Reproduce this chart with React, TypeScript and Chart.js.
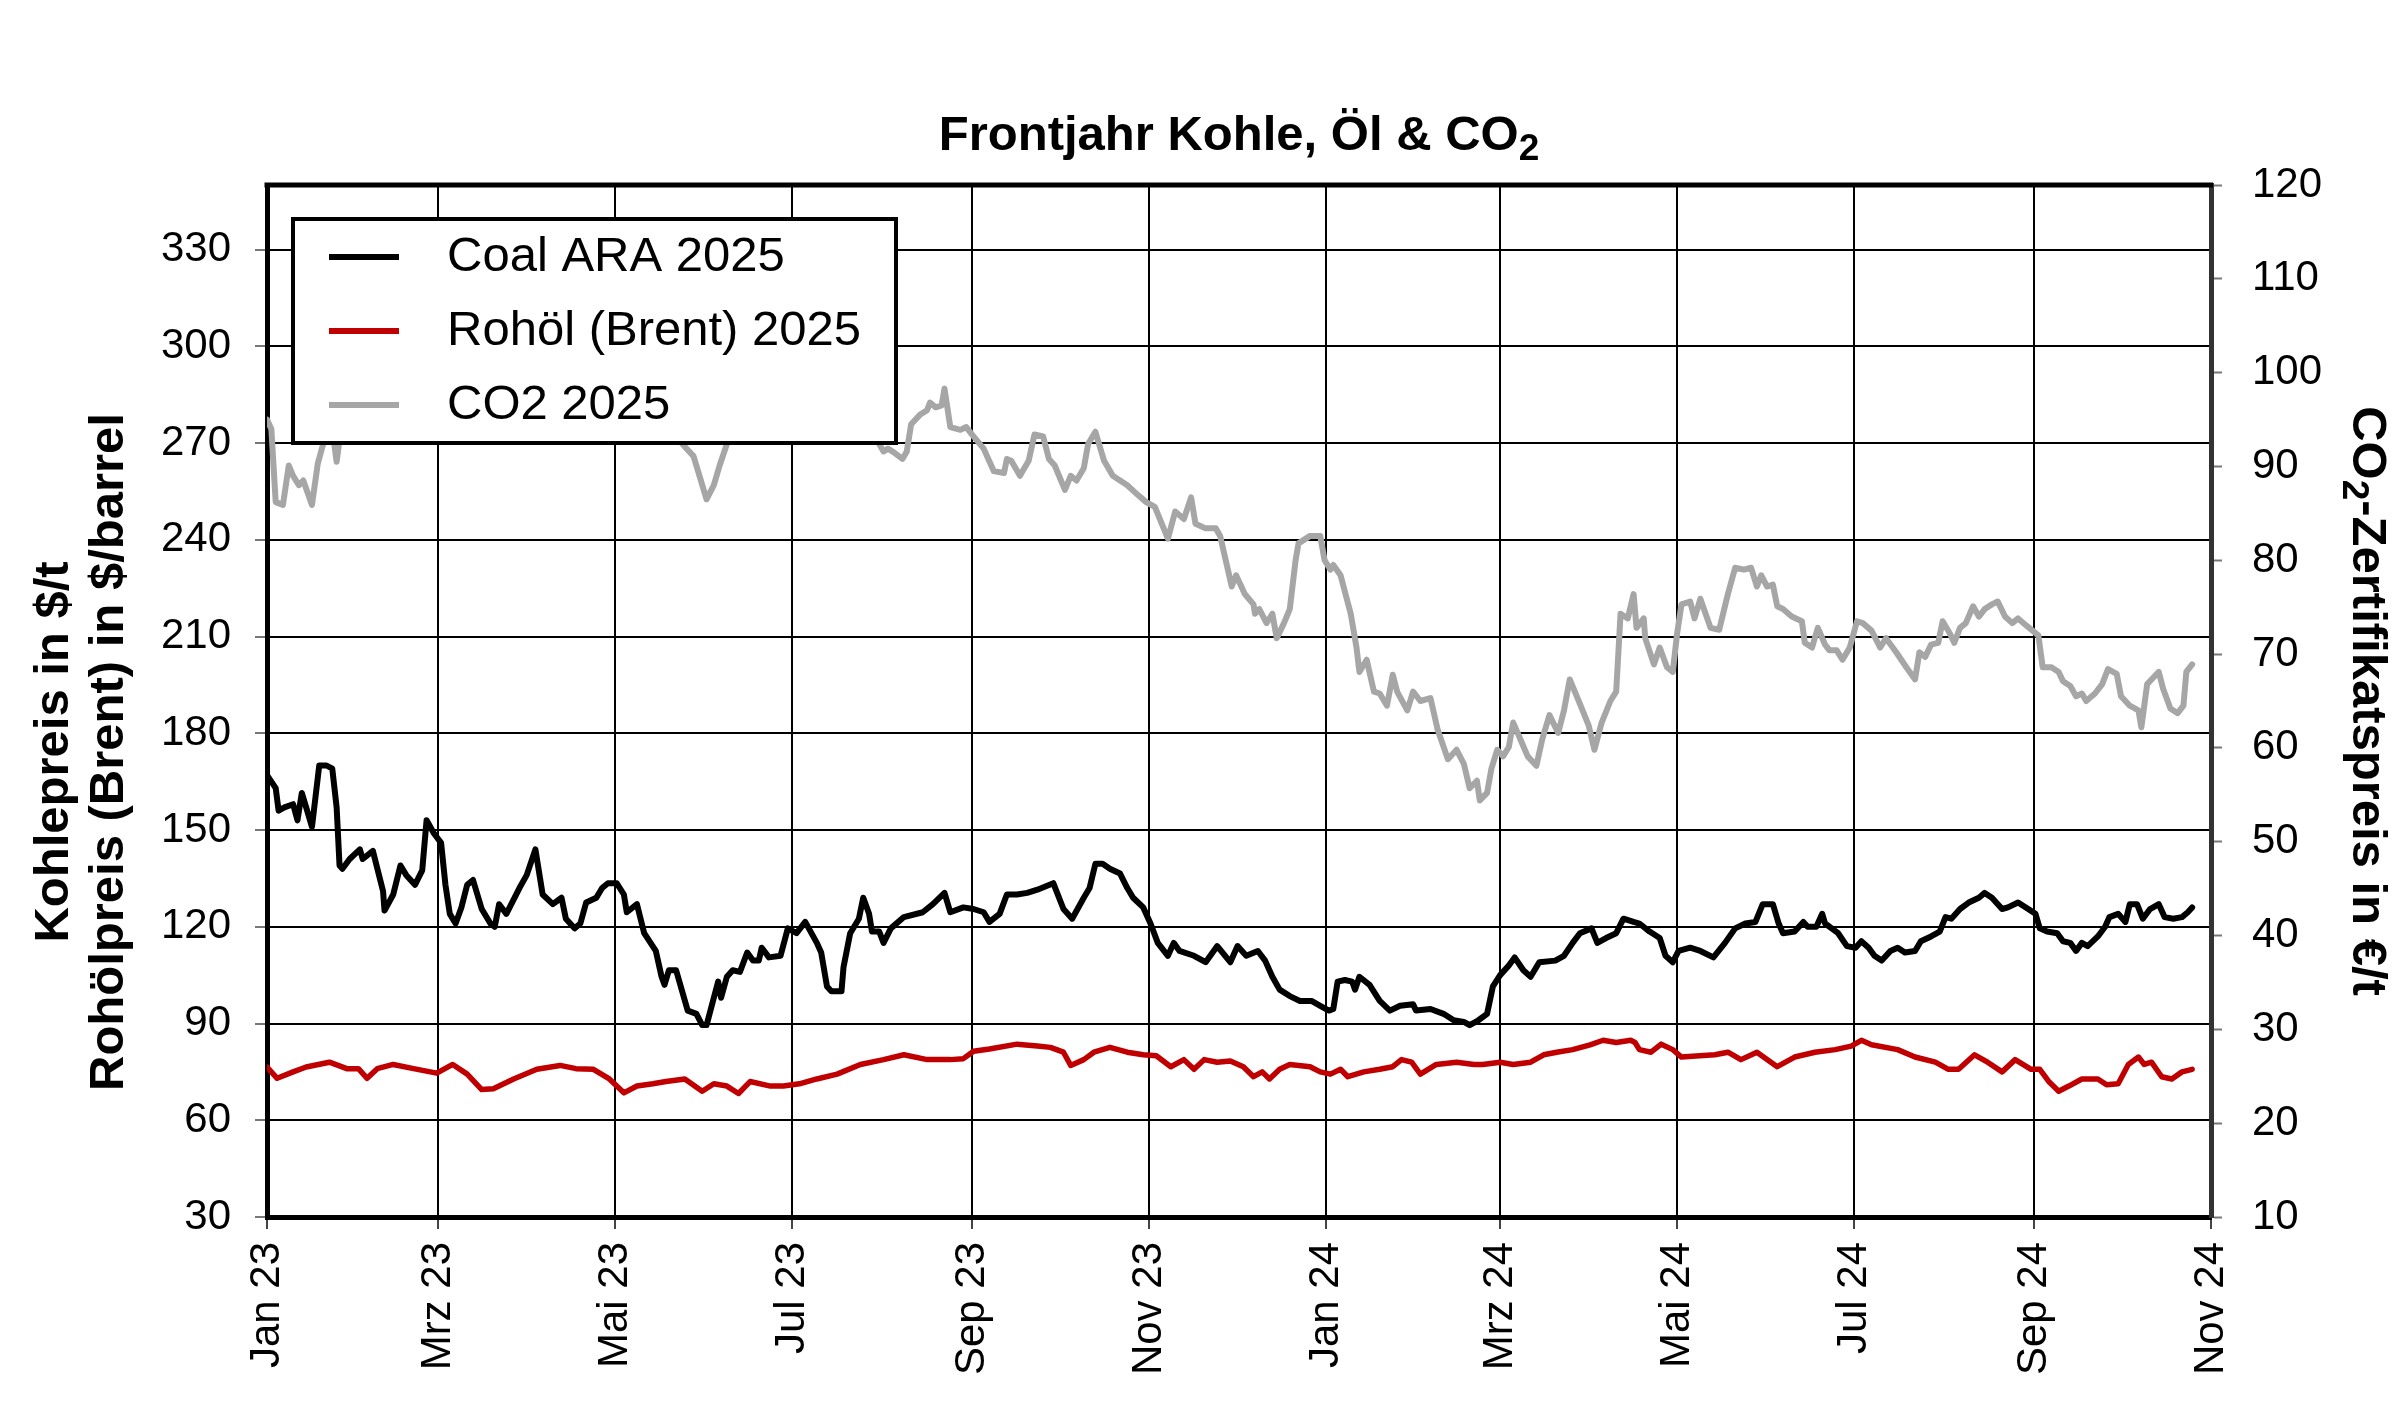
import { useEffect, useRef } from 'react'
import { Chart, registerables, type Plugin } from 'chart.js'

Chart.register(...registerables)

const FONT = "'Liberation Sans', Arial, Helvetica, sans-serif"

// x-Werte = Tage seit 1.1.2023
const TICK_DAYS = [0, 59, 120, 181, 243, 304, 365, 425, 486, 547, 609, 670]
const TICK_LABELS = ['Jan 23', 'Mrz 23', 'Mai 23', 'Jul 23', 'Sep 23', 'Nov 23', 'Jan 24', 'Mrz 24', 'Mai 24', 'Jul 24', 'Sep 24', 'Nov 24']
const LEFT_TICKS = [30, 60, 90, 120, 150, 180, 210, 240, 270, 300, 330]

const SERIES_LABELS = ['Coal ARA 2025', 'Rohöl (Brent) 2025', 'CO2 2025']
const COLORS = ['#000000', '#c00000', '#a6a6a6']

// Kohle, $/t
const COAL: [number, number][] = [
  [0, 167], [3, 163], [4, 156], [6, 157], [9, 158], [10.5, 153], [12, 161.5], [13.5, 157], [15.5, 151],
  [18, 170], [20.5, 170], [22.5, 169], [24, 157], [25, 139], [26, 138], [28.5, 141], [32, 144], [33, 141],
  [36.5, 143.5], [40, 131], [40.5, 125], [43.5, 130], [46, 139], [48, 136], [51, 133], [53.5, 137.5],
  [55, 153], [57.5, 149], [60, 146], [61.5, 133], [63, 124], [65, 121], [67, 126], [69, 133], [71, 134.5],
  [74, 125.5], [77, 121], [78.5, 120], [80, 127], [82.5, 124], [87, 132], [89.5, 136], [92.5, 144],
  [95, 130], [98.5, 127], [101.5, 129], [103, 122.5], [106, 119.5], [108, 121], [110, 127.5], [113.5, 129],
  [115.5, 132], [117.5, 133.5], [120.5, 133.5], [123, 130], [124, 124.5], [127.5, 127], [130, 118],
  [134, 112.5], [136, 104.5], [137, 102], [138.5, 106.5], [141, 106.5], [145, 94], [148, 93], [150, 89.5],
  [151.5, 89.5], [154, 98], [155.5, 103], [156.5, 98], [158.5, 104.5], [160.5, 106.5], [163, 106],
  [165.5, 112], [167.5, 109.5], [169.5, 109.5], [170.5, 113.5], [173, 110.5], [177, 111], [179.5, 119.5],
  [182.5, 118], [185.5, 121.5], [189.5, 115], [191, 112], [193, 101.5], [194.5, 100], [198, 100],
  [198.7, 107.5], [201, 118], [204, 122.5], [205.5, 129], [207.5, 124], [208.5, 118.5], [211, 118.5],
  [212.5, 115], [215, 119.5], [219.5, 123], [226, 124.5], [229.5, 127], [233.5, 130.5], [235.5, 124.5],
  [240, 126], [243.5, 125.5], [247, 124.5], [249, 121.5], [252.5, 124], [255, 130], [258.5, 130],
  [262, 130.5], [265.5, 131.5], [271, 133.5], [274.5, 125.5], [277.5, 122.5], [281.5, 129], [283.5, 132],
  [285.5, 139.5], [288, 139.5], [290.5, 138], [294, 136.5], [296.5, 132], [298.5, 129], [302, 126],
  [304.5, 121], [307, 115], [310.5, 111], [312.5, 115], [314.5, 112.5], [319.5, 111], [323.5, 109],
  [327.5, 114], [332, 109], [334.5, 114], [337.5, 111], [341.5, 112.5], [344, 109.5], [346.5, 104.5],
  [349, 100.5], [352.5, 98.5], [356, 97], [360, 97], [363, 95.5], [366, 94], [367.5, 94.5], [369, 103],
  [371.5, 103.5], [374, 103], [375, 100.5], [376.5, 104.5], [380, 102], [383.5, 97], [387, 94],
  [390.5, 95.5], [395, 96], [396, 94], [401, 94.5], [405.5, 93], [409, 91], [412.5, 90.5], [414.5, 89.5],
  [417.5, 91], [420.5, 93], [422.5, 101.5], [425, 105], [428, 108], [430, 110.5], [433, 106.5],
  [435.5, 104.5], [438.5, 109], [444, 109.5], [447, 111], [450, 115], [452.5, 118], [456.5, 119.5],
  [458.5, 115], [461.5, 116.5], [465, 118], [467.5, 122.5], [471, 121.5], [473, 121], [476.5, 118.5],
  [480, 116.5], [482, 111], [484.5, 109], [486.5, 112.5], [490.5, 113.5], [494, 112.5], [498.5, 110.5],
  [502.5, 115], [506, 119.5], [509.5, 121], [513, 121.5], [515.5, 127], [519, 127], [521, 121],
  [522.5, 118], [526.5, 118.5], [529.5, 121.5], [531, 120], [534, 120], [536, 124], [537, 121],
  [541.5, 118], [544.5, 114], [547.5, 113.5], [549.5, 115.5], [552, 113.5], [554, 111], [556.5, 109.5],
  [559.5, 112.5], [562, 113.5], [564.5, 112], [568, 112.5], [570, 115.5], [573.5, 117], [576.5, 118.5],
  [578.5, 123], [580.5, 122.5], [583.5, 125.5], [586.5, 127.5], [590, 129], [592, 130.5], [594.5, 129],
  [598, 125.5], [600, 126], [603.5, 127.5], [607, 125.5], [609.5, 124], [611, 119.5], [613.5, 118.5],
  [617, 118], [619, 115.5], [621.5, 115], [623.5, 112.5], [625.5, 115], [627.5, 114], [631, 117],
  [633.5, 120], [635, 123], [638, 124], [640.5, 121.5], [642, 127], [644.5, 127], [646.5, 122.5],
  [649, 125.5], [652, 127], [654, 123], [657, 122.5], [660, 123], [662, 124.5], [663.5, 126],
]

// Brent, $/barrel
const BRENT: [number, number][] = [
  [0, 76.5], [3.5, 73], [9, 75], [13.5, 76.5], [21.5, 78], [27.5, 76], [31.5, 76], [34.5, 73], [38, 76],
  [43.5, 77.3], [50.5, 76], [58.5, 74.6], [64, 77.3], [69, 74.3], [74, 69.5], [78, 69.8], [85, 72.8],
  [93, 75.8], [101, 77], [106.5, 76], [112.5, 75.8], [118, 72.8], [123, 68.5], [127.5, 70.6], [133, 71.3],
  [137.5, 72], [144, 72.8], [150, 69], [154, 71.3], [158.5, 70.6], [162.5, 68.3], [166.5, 72],
  [173.5, 70.6], [178, 70.6], [183.5, 71.3], [189.5, 72.8], [196.5, 74.3], [204.5, 77.3], [212.5, 78.8],
  [219.5, 80.3], [227.5, 78.8], [235.5, 78.8], [240, 79.1], [243.5, 81.4], [249, 82.1], [258.5, 83.6],
  [265.5, 83], [270, 82.6], [274.5, 81.1], [277, 77], [281.5, 78.8], [285, 81.1], [290.5, 82.6],
  [296.5, 81.1], [302, 80.3], [306.5, 80], [311.5, 76.6], [316, 78.8], [319.5, 75.8], [323, 78.8],
  [327.5, 78], [332, 78.4], [336.5, 76.6], [340, 73.5], [343, 75], [345.5, 72.8], [349, 75.8],
  [352.5, 77.3], [359.5, 76.6], [363, 75], [366.5, 74.3], [370, 75.8], [372.5, 73.5], [378, 75],
  [383.5, 75.8], [388, 76.6], [391, 78.8], [394.5, 78], [397.5, 74.3], [403, 77.3], [410, 78], [416, 77.3],
  [419, 77.3], [425, 78], [429.5, 77.3], [435.5, 78], [440, 80.3], [444.5, 81.1], [450, 81.9], [456, 83.4],
  [460.5, 84.8], [465, 84.1], [470, 84.8], [471.5, 84.1], [473, 81.9], [477, 81.1], [480.5, 83.6],
  [484.5, 81.9], [487.5, 79.6], [492.5, 79.9], [499, 80.3], [503.5, 81.1], [508, 78.8], [513.5, 81.1],
  [520.5, 76.6], [526.5, 79.6], [533.5, 81.1], [540.5, 81.9], [546, 83], [549.5, 84.8], [553, 83.4],
  [562, 81.9], [568, 79.6], [575, 78], [579.5, 75.8], [583, 75.8], [588.5, 80.3], [593, 78], [598, 75],
  [602.5, 78.8], [608, 75.8], [611, 75.8], [614, 72.1], [617.5, 69], [621, 70.6], [625.5, 72.8],
  [631, 72.8], [634, 71], [638, 71.3], [641.5, 77.3], [645, 79.6], [647, 77.3], [649.5, 78], [653, 73.5],
  [656.5, 72.8], [660, 75], [663.5, 75.8],
]

// CO2, €/t (hinter der Legende geschätzt)
const CO2: [number, number][] = [
  [0, 95], [1.5, 94], [3, 86.2], [5.5, 85.9], [7.5, 90.1], [9, 89], [11, 88], [12.5, 88.5], [15.5, 85.9],
  [17.5, 90.3], [19, 92], [21, 94], [22.5, 94], [24, 90.5], [25.5, 94], [30, 96], [36, 98], [42, 100],
  [48, 99], [55, 101], [62, 98], [70, 96], [78, 98], [86, 99], [94, 97], [102, 98], [110, 96], [118, 97],
  [126, 95], [134, 94], [140, 93.5], [144, 92.1], [147, 91.1], [151.5, 86.5], [154, 88], [156, 90.1],
  [158.5, 92.4], [163, 94], [170, 96], [178, 95], [186, 97], [194, 96], [202, 95], [208, 94],
  [212.5, 91.6], [214, 91.9], [216.5, 91.4], [219, 90.8], [220.5, 91.6], [222, 94.5], [225, 95.5],
  [227.5, 96], [228.5, 96.8], [230.5, 96.3], [232.5, 96.5], [233.5, 98.3], [235.5, 94.2], [239, 93.9],
  [241, 94.2], [243, 93.4], [247, 91.9], [250.5, 89.5], [254, 89.3], [255, 90.8], [256.5, 90.6],
  [259.5, 89], [262.5, 90.6], [264.5, 93.4], [267.5, 93.2], [269.5, 90.8], [271.5, 90.1], [275, 87.5],
  [277, 89], [279, 88.5], [281.5, 89.8], [283, 92.4], [285.5, 93.7], [288.5, 90.6], [291.5, 89], [296.5, 88],
  [300, 87], [303, 86.2], [306, 85.7], [310.5, 82.3], [313, 85.2], [316, 84.4], [318.5, 86.7], [320, 83.9],
  [323.5, 83.4], [327, 83.4], [328.5, 82.6], [332.5, 77.2], [334, 78.4], [337, 76.4], [340, 75.3],
  [340.5, 74.3], [342, 74.8], [344.5, 73.3], [346.5, 74.3], [348, 71.7], [350.5, 73.3], [352.5, 74.8],
  [354.5, 80], [355.5, 81.8], [359.5, 82.6], [363, 82.6], [364.5, 80], [366.5, 79], [367.5, 79.5],
  [370, 78.4], [373.5, 74.3], [375.5, 70.7], [376.5, 68.1], [379, 69.4], [381.5, 66], [383.5, 65.8],
  [386, 64.5], [388, 67.8], [389.5, 66], [393, 64], [395, 66], [397.5, 65], [401, 65.3], [403.5, 61.9],
  [407, 58.8], [410, 59.8], [412.5, 58.3], [414.5, 55.7], [417, 56.5], [418, 54.4], [420.5, 55.2],
  [422, 57.8], [424, 59.8], [426, 59.1], [428, 60.1], [429.5, 62.7], [432, 60.9], [434.5, 59.1],
  [437.5, 58.1], [439.5, 60.9], [442, 63.5], [445, 61.6], [447, 64], [449, 67.3], [452.5, 64.7],
  [455.5, 62.4], [457.5, 59.8], [460, 62.7], [463, 65], [465, 66], [466.5, 74.3], [469, 73.8], [471, 76.4],
  [472, 72.8], [474.5, 73.8], [475, 71.7], [478, 68.9], [480, 70.7], [482.5, 68.6], [484.5, 68.1],
  [486, 72.2], [487.5, 75.3], [490.5, 75.6], [492, 73.8], [494, 75.9], [497.5, 72.8], [500.5, 72.6],
  [503.5, 76.4], [506, 79.2], [509, 79], [511.5, 79.2], [513.5, 77.2], [515, 78.4], [517, 77.2], [519, 77.4],
  [520.5, 75.1], [522.5, 74.8], [525.5, 74], [529, 73.5], [530, 71.2], [532.5, 70.7], [534.5, 72.8],
  [537, 71], [538.5, 70.4], [541, 70.4], [543, 69.4], [545.5, 70.7], [548, 73.5], [550, 73.3], [553, 72.5],
  [556, 70.7], [558, 71.7], [561.5, 70.2], [565, 68.6], [568, 67.3], [569.5, 70.2], [571.5, 69.7],
  [573.5, 71], [576, 71.2], [577.5, 73.5], [580, 72.2], [581.5, 71.2], [583.5, 72.8], [585.5, 73.3],
  [588, 75.1], [590, 74], [592, 74.8], [594.5, 75.3], [596.5, 75.6], [599, 74], [601.5, 73.3], [603.5, 73.8],
  [606.5, 73], [608.5, 72.5], [610.5, 72], [612, 68.6], [615, 68.6], [617.5, 68.1], [619, 67.1],
  [621.5, 66.6], [623.5, 65.5], [625.5, 65.8], [627, 65], [630, 65.8], [632.5, 66.8], [634.5, 68.4],
  [637.5, 67.9], [639, 65.5], [642, 64.5], [645, 64], [646, 62.2], [648, 66.8], [649.5, 67.3], [652, 68.1],
  [653.5, 66.3], [656, 64.2], [658.5, 63.7], [660.5, 64.5], [661.5, 68.1], [663.5, 68.9],
]

type Part = [string, boolean]

// Text mit tiefgestellten Teilen, zentriert um (x, y) = Grundlinie
function drawRich(ctx: CanvasRenderingContext2D, parts: Part[], size: number, x: number, y: number, rot: number) {
  ctx.save()
  ctx.translate(x, y)
  ctx.rotate(rot)
  ctx.fillStyle = '#000'
  ctx.textAlign = 'left'
  ctx.textBaseline = 'alphabetic'
  const fontOf = (sub: boolean) => `bold ${sub ? Math.round(size * 0.75) : size}px ${FONT}`
  const widths = parts.map(([t, sub]) => {
    ctx.font = fontOf(sub)
    return ctx.measureText(t).width
  })
  let cx = -widths.reduce((a, b) => a + b, 0) / 2
  parts.forEach(([t, sub], i) => {
    ctx.font = fontOf(sub)
    ctx.fillText(t, cx, sub ? size * 0.2 : 0)
    cx += widths[i]
  })
  ctx.restore()
}

const decor: Plugin<'line'> = {
  id: 'decor',
  afterDatasetsDraw(chart) {
    const { ctx, chartArea: a } = chart
    ctx.save()
    // obere Rahmenlinie
    ctx.strokeStyle = '#000'
    ctx.lineWidth = 5
    ctx.beginPath()
    ctx.moveTo(a.left - 2.5, a.top)
    ctx.lineTo(a.right + 2, a.top)
    ctx.stroke()

    // Legende im Diagramm
    const lx = a.left + 26
    const ly = a.top + 34
    ctx.fillStyle = '#fff'
    ctx.fillRect(lx, ly, 603, 224)
    ctx.lineWidth = 4
    ctx.strokeRect(lx, ly, 603, 224)
    ctx.font = `49px ${FONT}`
    ctx.textBaseline = 'middle'
    ctx.textAlign = 'left'
    chart.data.datasets.forEach((ds, i) => {
      const y = ly + 38 + i * 74
      ctx.strokeStyle = ds.borderColor as string
      ctx.lineWidth = 6
      ctx.beginPath()
      ctx.moveTo(lx + 36, y)
      ctx.lineTo(lx + 106, y)
      ctx.stroke()
      ctx.fillStyle = '#000'
      ctx.fillText(ds.label ?? '', lx + 154, y)
    })
    ctx.restore()
  },
  afterDraw(chart) {
    const { ctx, chartArea: a } = chart
    const midX = (a.left + a.right) / 2
    const midY = (a.top + a.bottom) / 2
    drawRich(ctx, [['Frontjahr Kohle, Öl & CO', false], ['2', true]], 49, midX, a.top - 35, 0)
    drawRich(ctx, [['Kohlepreis in $/t', false]], 49, 68, midY + 51, -Math.PI / 2)
    drawRich(ctx, [['Rohölpreis (Brent) in $/barrel', false]], 49, 123, midY + 51, -Math.PI / 2)
    drawRich(ctx, [['CO', false], ['2', true], ['-Zertifikatspreis in €/t', false]], 49, 2353, midY, Math.PI / 2)
  },
}

const tickFont = { family: FONT, size: 42 }

export default function App() {
  const canvasRef = useRef<HTMLCanvasElement>(null)

  useEffect(() => {
    document.body.style.margin = '0'
    document.body.style.overflow = 'hidden'
    if (!canvasRef.current) return

    const toPoints = (arr: [number, number][]) => arr.map(([x, y]) => ({ x, y }))

    const chart = new Chart(canvasRef.current, {
      type: 'line',
      data: {
        datasets: [
          { label: SERIES_LABELS[0], data: toPoints(COAL), borderColor: COLORS[0], borderWidth: 6, yAxisID: 'y' },
          { label: SERIES_LABELS[1], data: toPoints(BRENT), borderColor: COLORS[1], borderWidth: 5.5, yAxisID: 'y' },
          { label: SERIES_LABELS[2], data: toPoints(CO2), borderColor: COLORS[2], borderWidth: 6, yAxisID: 'y1' },
        ],
      },
      options: {
        responsive: false,
        devicePixelRatio: 1,
        animation: false,
        layout: { padding: { top: 185, left: 0, right: 0, bottom: 0 } },
        elements: { point: { radius: 0 }, line: { tension: 0, borderJoinStyle: 'round', borderCapStyle: 'round' } },
        plugins: {
          legend: { display: false },
          title: { display: false },
          tooltip: { enabled: false },
        },
        scales: {
          x: {
            type: 'linear',
            min: 0,
            max: 670,
            afterBuildTicks: (s) => { s.ticks = TICK_DAYS.map((value) => ({ value })) },
            afterFit: (s) => { s.height = 188 },
            ticks: {
              autoSkip: false,
              maxRotation: 90,
              minRotation: 90,
              padding: 13,
              color: '#000',
              font: tickFont,
              callback: (v) => TICK_LABELS[TICK_DAYS.indexOf(Number(v))] ?? '',
            },
            grid: { color: '#000', lineWidth: 2, tickLength: 12, tickColor: '#444', tickWidth: 2 },
            border: { display: true, color: '#000', width: 5 },
          },
          y: {
            position: 'left',
            min: 30,
            max: 350,
            afterBuildTicks: (s) => { s.ticks = LEFT_TICKS.map((value) => ({ value })) },
            afterFit: (s) => { s.width = 267 },
            ticks: { padding: 24, color: '#000', font: tickFont },
            grid: { color: '#000', lineWidth: 2, tickLength: 12, tickColor: '#777', tickWidth: 2 },
            border: { display: true, color: '#000', width: 5 },
          },
          y1: {
            position: 'right',
            min: 10,
            max: 120,
            ticks: { stepSize: 10, padding: 30, color: '#000', font: tickFont },
            afterFit: (s) => { s.width = 189 },
            grid: { drawOnChartArea: false, tickLength: 11, tickColor: '#777', tickWidth: 2 },
            border: { display: true, color: '#333', width: 5 },
          },
        },
      },
      plugins: [decor],
    })

    return () => chart.destroy()
  }, [])

  return <canvas ref={canvasRef} width={2400} height={1405} />
}
